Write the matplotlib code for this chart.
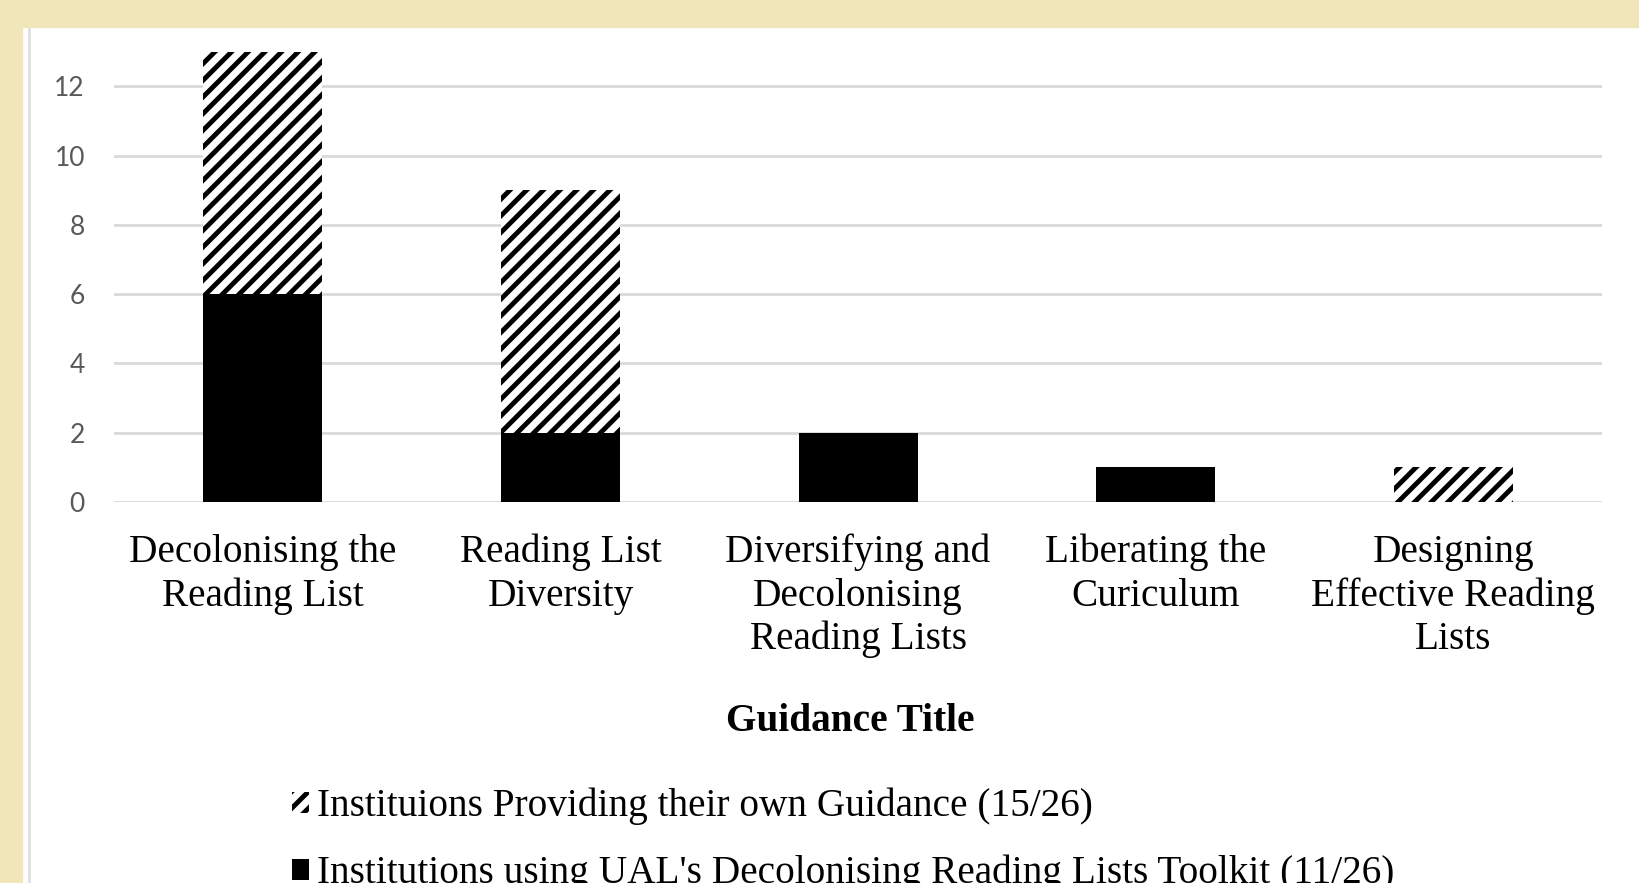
import matplotlib.pyplot as plt
from matplotlib.patches import Patch, Rectangle
from matplotlib.lines import Line2D

# data
categories = ["Decolonising the\nReading List", "Reading List\nDiversity",
              "Diversifying and\nDecolonising\nReading Lists", "Liberating the\nCuriculum",
              "Designing\nEffective Reading\nLists"]
toolkit = [6, 2, 2, 1, 0]
own_guidance = [7, 7, 0, 0, 1]
label_own = "Instituions Providing their own Guidance (15/26)"
label_toolkit = "Institutions using UAL's Decolonising Reading Lists Toolkit (11/26)"

plt.rcParams["hatch.linewidth"] = 3.5
serif = ["Liberation Serif", "DejaVu Serif"]
fs = 28.3

fig = plt.figure(figsize=(16.39, 8.83), dpi=100, facecolor="white")
ax = fig.add_axes([0.0696, 0.4315, 0.9078, 0.5492])

x = list(range(len(categories)))
ax.bar(x, toolkit, width=0.4, color="black", zorder=3)
ax.bar(x, own_guidance, width=0.4, bottom=toolkit, facecolor="white",
       edgecolor="black", linewidth=0, hatch="//", zorder=3)

ax.set_xlim(-0.5, 4.5)
ax.set_ylim(0, 14)
ax.set_yticks(range(0, 15, 2))
ax.grid(axis="y", color="#d9d9d9", linewidth=2, zorder=0)
for s in ax.spines.values():
    s.set_visible(False)
ax.tick_params(axis="both", length=0)
ax.tick_params(axis="y", pad=21, labelsize=19, labelcolor="#595959")
for t in ax.get_yticklabels():
    t.set_fontfamily("Lato")
ax.set_xticks(x)
ax.set_xticklabels(categories, fontsize=fs, family=serif, linespacing=1.22)
ax.tick_params(axis="x", pad=23)

fig.text(0.519, 0.183, "Guidance Title", ha="center", va="center",
         fontsize=fs, fontweight="bold", family=serif)

handles = [Patch(facecolor="white", edgecolor="black", linewidth=0, hatch="//"),
           Patch(facecolor="black")]
fig.legend(handles, [label_own, label_toolkit], loc="upper left",
           bbox_to_anchor=(0.178, 0.108), frameon=False,
           prop={"family": serif, "size": fs}, handlelength=0.45,
           handleheight=0.45, handletextpad=0.2, labelspacing=0.75,
           borderaxespad=0, borderpad=0)

# beige frame strips and thin grey border
beige = "#f1e6b9"
fig.add_artist(Rectangle((0, 1 - 27 / 883), 1, 27 / 883, transform=fig.transFigure,
                         color=beige, zorder=10))
fig.add_artist(Rectangle((0, 0), 22 / 1639, 1, transform=fig.transFigure,
                         color=beige, zorder=10))
fig.add_artist(Line2D([29 / 1639, 29 / 1639], [0, 1 - 27 / 883],
                      transform=fig.transFigure, color="#e0e0e0", linewidth=2, zorder=9))

fig.savefig("out.png", dpi=100)
